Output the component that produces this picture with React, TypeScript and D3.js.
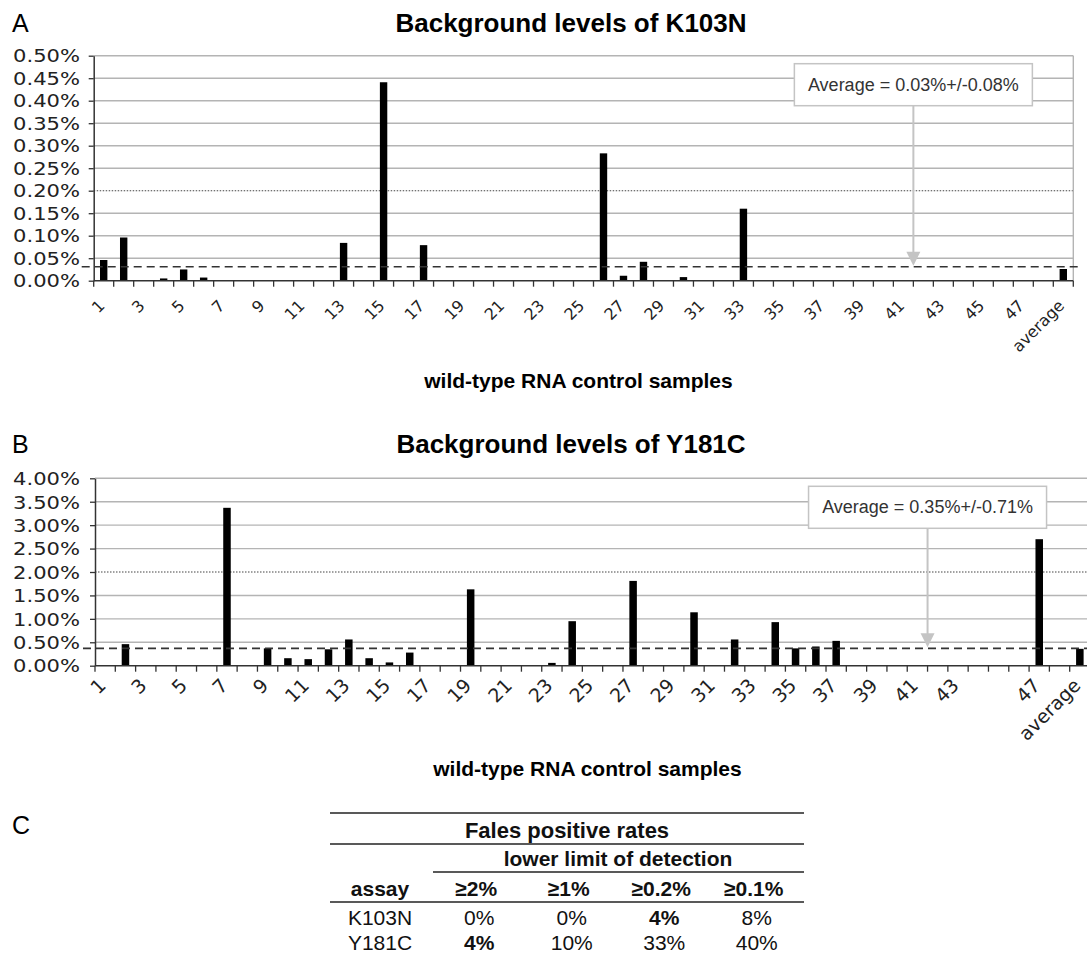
import React, { useEffect, useRef } from "react";
import * as d3 from "d3";

// wild-type RNA control samples, plus the average column
const sampleIds = [
  "1", "2", "3", "4", "5", "6", "7", "8", "9", "10", "11", "12", "13", "14", "15", "16",
  "17", "18", "19", "20", "21", "22", "23", "24", "25", "26", "27", "28", "29", "30", "31", "32",
  "33", "34", "35", "36", "37", "38", "39", "40", "41", "42", "43", "44", "45", "46", "47", "48",
  "average",
];

// background level (%) per sample
const k103nValues = [
  0.046, 0.096, 0, 0.005, 0.025, 0.007, 0, 0, 0, 0.001, 0, 0.001, 0.084, 0, 0.441, 0.001,
  0.079, 0, 0, 0, 0, 0, 0, 0, 0, 0.283, 0.011, 0.042, 0, 0.008, 0, 0,
  0.16, 0, 0, 0, 0, 0, 0, 0, 0, 0, 0, 0, 0, 0, 0, 0,
  0.026,
];
const y181cValues = [
  0, 0.46, 0, 0, 0, 0, 3.37, 0, 0.37, 0.16, 0.14, 0.35, 0.56, 0.16, 0.07, 0.28,
  0, 0, 1.63, 0, 0, 0, 0.06, 0.95, 0, 0, 1.81, 0, 0, 1.14, 0, 0.56,
  0, 0.93, 0.37, 0.41, 0.53, 0, 0, 0, 0, 0, 0, 0, 0, 0, 2.7, 0,
  0.36,
];

const k103nXLabels = [
  "1", "3", "5", "7", "9", "11", "13", "15", "17", "19", "21", "23", "25", "27", "29", "31",
  "33", "35", "37", "39", "41", "43", "45", "47", "average",
];
const y181cXLabels = [
  "1", "3", "5", "7", "9", "11", "13", "15", "17", "19", "21", "23", "25", "27", "29", "31",
  "33", "35", "37", "39", "41", "43", "47", "average",
];

const k103nYTicks = [0, 0.05, 0.1, 0.15, 0.2, 0.25, 0.3, 0.35, 0.4, 0.45, 0.5];
const y181cYTicks = [0, 0.5, 1, 1.5, 2, 2.5, 3, 3.5, 4];

const k103nCutoff = 0.2;
const y181cCutoff = 2;
const k103nMean = 0.031;
const y181cMean = 0.37;
const k103nNote = "Average = 0.03%+/-0.08%";
const y181cNote = "Average = 0.35%+/-0.71%";

// table C
const assays = ["K103N", "Y181C"];
const limits = ["≥2%", "≥1%", "≥0.2%", "≥0.1%"];
const k103nRates = ["0%", "0%", "4%", "8%"];
const y181cRates = ["4%", "10%", "33%", "40%"];
const k103nBold = [false, false, true, false];
const y181cBold = [true, false, false, false];

const ARIAL = "'Liberation Sans', Arial, sans-serif";
const VERDANA = "'DejaVu Sans', Verdana, sans-serif";

type Panel = {
  letter: string;
  title: string;
  values: number[];
  yTicks: number[];
  xLabels: string[];
  cutoff: number;
  mean: number;
  note: string;
  left: number;
  right: number;
  top: number;
  bottom: number;
  titleY: number;
  axisTitleY: number;
  labelGap: number;
  labelSize: number;
};

function drawPanel(svg: any, p: Panel) {
  const x = d3.scaleBand<string>().domain(sampleIds).range([p.left, p.right]);
  const y = d3
    .scaleLinear()
    .domain([0, d3.max(p.yTicks) as number])
    .range([p.bottom, p.top]);
  const g = svg.append("g");

  g.selectAll(".grid")
    .data(p.yTicks.filter((t) => t > 0))
    .join("line")
    .attr("class", "grid")
    .attr("x1", p.left)
    .attr("x2", p.right)
    .attr("y1", (d: number) => y(d))
    .attr("y2", (d: number) => y(d))
    .attr("stroke", (d: number) => (d === p.cutoff ? "#444" : "#b4b4b4"))
    .attr("stroke-width", (d: number) => (d === p.cutoff ? 1.1 : 1.4))
    .attr("stroke-dasharray", (d: number) => (d === p.cutoff ? "1.5,1.5" : null));

  // right frame
  g.append("line")
    .attr("x1", p.right)
    .attr("x2", p.right)
    .attr("y1", p.top)
    .attr("y2", p.bottom)
    .attr("stroke", "#b4b4b4")
    .attr("stroke-width", 1.4);

  const bw = x.bandwidth() * 0.37;
  g.selectAll(".bar")
    .data(p.values)
    .join("rect")
    .attr("class", "bar")
    .attr("x", (_: number, i: number) => (x(sampleIds[i]) as number) + (x.bandwidth() - bw) / 2)
    .attr("y", (d: number) => y(d))
    .attr("width", bw)
    .attr("height", (d: number) => y(0) - y(d))
    .attr("fill", "#000");

  // average arrow + box
  const ax = x(sampleIds[41]) as number;
  const ym = y(p.mean);
  const boxW = 238;
  const boxH = 42;
  const boxTop = p.top + 8;
  g.append("line")
    .attr("x1", ax)
    .attr("x2", ax)
    .attr("y1", boxTop + boxH)
    .attr("y2", ym - 12)
    .attr("stroke", "#c4c4c4")
    .attr("stroke-width", 2);
  g.append("path")
    .attr("d", `M${ax - 7},${ym - 15}L${ax + 7},${ym - 15}L${ax},${ym - 1}Z`)
    .attr("fill", "#c4c4c4");
  g.append("rect")
    .attr("x", ax - boxW / 2)
    .attr("y", boxTop)
    .attr("width", boxW)
    .attr("height", boxH)
    .attr("fill", "#fff")
    .attr("stroke", "#c4c4c4")
    .attr("stroke-width", 1.5);
  g.append("text")
    .attr("x", ax)
    .attr("y", boxTop + boxH / 2 + 6)
    .attr("text-anchor", "middle")
    .attr("font-family", ARIAL)
    .attr("font-size", 18)
    .attr("fill", "#333")
    .text(p.note);

  g.append("line")
    .attr("x1", p.left - 12)
    .attr("x2", p.right + 5)
    .attr("y1", ym)
    .attr("y2", ym)
    .attr("stroke", "#333")
    .attr("stroke-width", 1.6)
    .attr("stroke-dasharray", "8,5");

  // y axis
  const yAxis = g
    .append("g")
    .attr("transform", `translate(${p.left},0)`)
    .call(
      d3
        .axisLeft(y)
        .tickValues(p.yTicks)
        .tickSize(5)
        .tickSizeOuter(0)
        .tickFormat((d: any) => `${(+d).toFixed(2)}%`)
    );
  yAxis.select(".domain").attr("stroke", "#333").attr("stroke-width", 1.5);
  yAxis.selectAll(".tick line").attr("stroke", "#333").attr("stroke-width", 1.3);
  yAxis
    .selectAll(".tick text")
    .attr("x", null)
    .attr("dy", "0.37em")
    .attr("transform", `translate(${80 - p.left},0) scale(1.24,1)`)
    .attr("font-family", VERDANA)
    .attr("font-size", 17)
    .attr("fill", "#222");

  // x axis: baseline, ticks on category boundaries
  g.append("line")
    .attr("x1", p.left)
    .attr("x2", p.right)
    .attr("y1", p.bottom)
    .attr("y2", p.bottom)
    .attr("stroke", "#333")
    .attr("stroke-width", 1.5);
  const bounds = [...sampleIds.map((id) => x(id) as number), p.right];
  g.selectAll(".xtick")
    .data(bounds)
    .join("line")
    .attr("class", "xtick")
    .attr("x1", (d: number) => d)
    .attr("x2", (d: number) => d)
    .attr("y1", p.bottom)
    .attr("y2", p.bottom + 6)
    .attr("stroke", "#333")
    .attr("stroke-width", 1.3);

  g.selectAll(".xlab")
    .data(p.xLabels)
    .join("text")
    .attr("class", "xlab")
    .attr(
      "transform",
      (d: string) =>
        `translate(${(x(d) as number) + x.bandwidth() / 2 + 2},${p.bottom + p.labelGap}) rotate(-45)`
    )
    .attr("text-anchor", "end")
    .attr("font-family", VERDANA)
    .attr("font-size", p.labelSize)
    .attr("fill", "#222")
    .text((d: string) => d);

  // titles
  svg
    .append("text")
    .attr("x", 12)
    .attr("y", p.titleY)
    .attr("font-family", ARIAL)
    .attr("font-size", 25)
    .text(p.letter);
  svg
    .append("text")
    .attr("x", 571)
    .attr("y", p.titleY)
    .attr("text-anchor", "middle")
    .attr("font-family", ARIAL)
    .attr("font-weight", "bold")
    .attr("font-size", 26)
    .text(p.title);
  svg
    .append("text")
    .attr("x", (p.left + p.right) / 2 - 5)
    .attr("y", p.axisTitleY)
    .attr("text-anchor", "middle")
    .attr("font-family", ARIAL)
    .attr("font-weight", "bold")
    .attr("font-size", 21)
    .text("wild-type RNA control samples");
}

function drawTable(svg: any) {
  const g = svg.append("g").attr("font-family", ARIAL).attr("font-size", 21).attr("fill", "#111");
  const col = d3.scaleBand<string>().domain(limits).range([430, 800]);
  const cx = (d: string) => (col(d) as number) + col.bandwidth() / 2;
  const rule = (x1: number, yy: number) =>
    g.append("line")
      .attr("x1", x1)
      .attr("x2", 804)
      .attr("y1", yy)
      .attr("y2", yy)
      .attr("stroke", "#222")
      .attr("stroke-width", 1.5);

  svg
    .append("text")
    .attr("x", 12)
    .attr("y", 834)
    .attr("font-family", ARIAL)
    .attr("font-size", 25)
    .text("C");

  rule(330, 813);
  g.append("text")
    .attr("x", 567)
    .attr("y", 838)
    .attr("text-anchor", "middle")
    .attr("font-weight", "bold")
    .attr("font-size", 22)
    .text("Fales positive rates");
  rule(330, 844);
  g.append("text")
    .attr("x", 618)
    .attr("y", 866)
    .attr("text-anchor", "middle")
    .attr("font-weight", "bold")
    .text("lower limit of detection");
  rule(433, 872);
  g.append("text")
    .attr("x", 380)
    .attr("y", 896)
    .attr("text-anchor", "middle")
    .attr("font-weight", "bold")
    .text("assay");
  g.selectAll(".lim")
    .data(limits)
    .join("text")
    .attr("class", "lim")
    .attr("x", (d: string) => cx(d))
    .attr("y", 896)
    .attr("text-anchor", "middle")
    .attr("font-weight", "bold")
    .text((d: string) => d);
  rule(330, 902);

  const rows = [
    { name: assays[0], rates: k103nRates, bold: k103nBold },
    { name: assays[1], rates: y181cRates, bold: y181cBold },
  ];
  rows.forEach((r, ri) => {
    const yy = 925 + ri * 25;
    g.append("text").attr("x", 380).attr("y", yy).attr("text-anchor", "middle").text(r.name);
    g.selectAll(`.rate${ri}`)
      .data(r.rates)
      .join("text")
      .attr("class", `rate${ri}`)
      .attr("x", (_: string, i: number) => cx(limits[i]) + 3)
      .attr("y", yy)
      .attr("text-anchor", "middle")
      .attr("font-weight", (_: string, i: number) => (r.bold[i] ? "bold" : "normal"))
      .text((d: string) => d);
  });
}

const App = () => {
  const ref = useRef<SVGSVGElement | null>(null);

  useEffect(() => {
    if (!ref.current) return;
    const svg = d3.select(ref.current);
    svg.selectAll("*").remove();

    drawPanel(svg, {
      letter: "A",
      title: "Background levels of K103N",
      values: k103nValues,
      yTicks: k103nYTicks,
      xLabels: k103nXLabels,
      cutoff: k103nCutoff,
      mean: k103nMean,
      note: k103nNote,
      left: 93.7,
      right: 1073.3,
      top: 55.7,
      bottom: 280.7,
      titleY: 32,
      axisTitleY: 388,
      labelGap: 26,
      labelSize: 16,
    });
    drawPanel(svg, {
      letter: "B",
      title: "Background levels of Y181C",
      values: y181cValues,
      yTicks: y181cYTicks,
      xLabels: y181cXLabels,
      cutoff: y181cCutoff,
      mean: y181cMean,
      note: y181cNote,
      left: 95,
      right: 1090,
      top: 478.3,
      bottom: 665.7,
      titleY: 453,
      axisTitleY: 776,
      labelGap: 21,
      labelSize: 19,
    });
    drawTable(svg);
  }, []);

  return (
    <div style={{ position: "absolute", left: 0, top: 0 }}>
      <svg ref={ref} width={1087} height={955} style={{ display: "block", background: "#fff" }} />
    </div>
  );
};

export default App;
